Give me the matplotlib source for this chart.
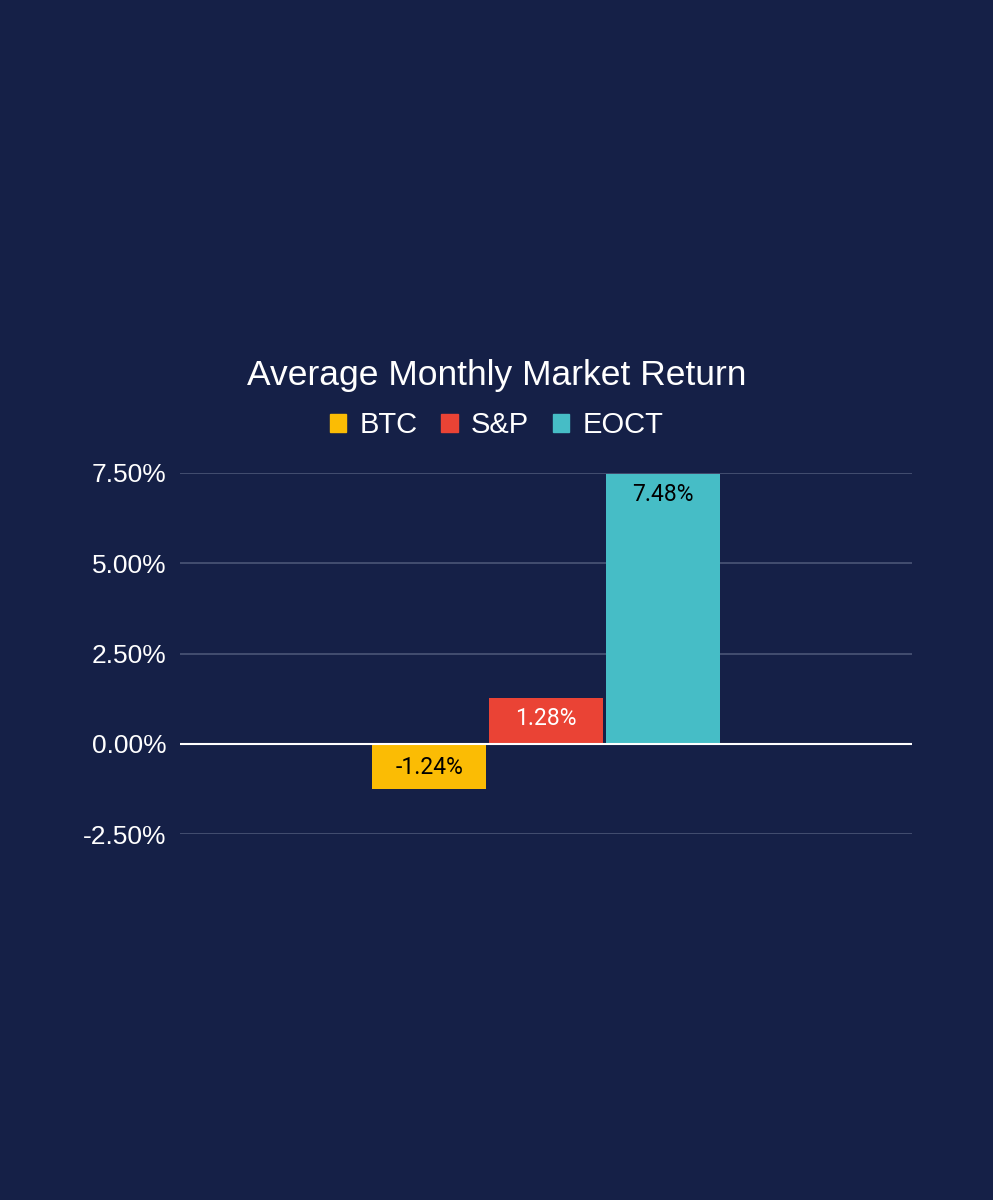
import matplotlib
matplotlib.use("Agg")
import matplotlib.pyplot as plt
from matplotlib.patches import Rectangle
from matplotlib.ticker import FuncFormatter

# Data
series = ["BTC", "S&P", "EOCT"]
values = [-1.24, 1.28, 7.48]
colors = ["#FBBC04", "#EA4335", "#46BDC6"]
label_colors = ["#000000", "#FFFFFF", "#000000"]
yticks = [-2.5, 0.0, 2.5, 5.0, 7.5]

BG = "#152047"
W, H = 993, 1200
fig = plt.figure(figsize=(W / 100, H / 100), dpi=100, facecolor=BG)
# plot area: x 180..912, y 473..834 (pixels from top)
ax = fig.add_axes([180 / W, 1 - 834 / H, (912 - 180) / W, (834 - 473) / H])
ax.set_facecolor(BG)

xs = [-1, 0, 1]
bars = ax.bar(xs, values, width=0.97, color=colors, zorder=3)
ax.set_xlim(-3.13, 3.13)
ax.set_ylim(-2.5, 7.5)
ax.set_yticks(yticks)
ax.yaxis.set_major_formatter(FuncFormatter(lambda v, p: f"{v:.2f}%"))
for s in ax.spines.values():
    s.set_visible(False)
ax.tick_params(axis="y", length=0, pad=9.5, labelsize=19, labelcolor="white")
for lab in ax.get_yticklabels():
    lab.set_family("Liberation Sans")
ax.set_xticks([])
ax.grid(axis="y", color="#4B5577", linewidth=1.2, zorder=0)
ax.axhline(0, color="white", linewidth=1.5, zorder=4)

for x, v, lc in zip(xs, values, label_colors):
    off = -15 if v > 0 else 15
    ax.annotate(f"{v:.2f}%", xy=(x, v), xytext=(0, off), textcoords="offset points",
                ha="center", va="center", color=lc, fontsize=16.5, family="Roboto", zorder=5)

fig.text(0.5, 1 - 376 / H, "Average Monthly Market Return", ha="center", va="center",
         color="white", fontsize=25.5, family="Liberation Sans")

# legend
handles = [Rectangle((0, 0), 1, 1, color=c) for c in colors]
leg = fig.legend(handles, series, loc="center", bbox_to_anchor=(0.5, 1 - 425 / H),
                 ncol=3, frameon=False, handlelength=0.58, handleheight=0.58,
                 handletextpad=0.45, columnspacing=0.8,
                 prop={"family": "Liberation Sans", "size": 21})
for t in leg.get_texts():
    t.set_color("white")

fig.savefig("out.png", dpi=100, facecolor=BG)
